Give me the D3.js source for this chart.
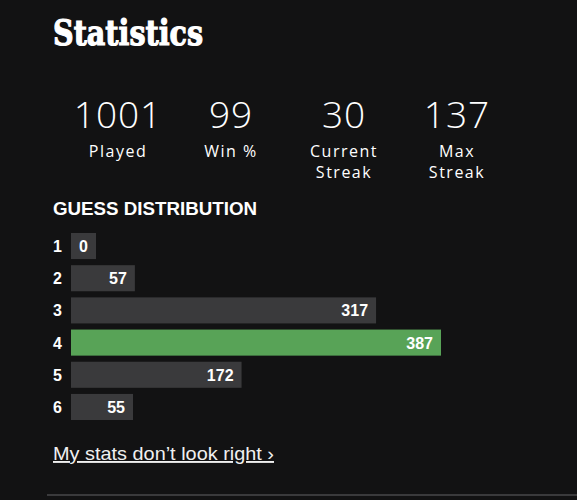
<!DOCTYPE html>
<html>
<head>
<meta charset="utf-8">
<script src="https://cdn.jsdelivr.net/npm/d3@7"></script>
<style>
  html, body { margin: 0; padding: 0; background: #121213; }
  svg { display: block; }
</style>
</head>
<body>
<svg id="chart"></svg>
<script>
// stat header
const statValues = ['1001', '99', '30', '137'];
const statLabels = [['Played'], ['Win %'], ['Current', 'Streak'], ['Max', 'Streak']];

// guess distribution
const guesses = ['1', '2', '3', '4', '5', '6'];
const counts = [0, 57, 317, 387, 172, 55];
const lastGuess = '4';

const width = 577;
const height = 500;

const svg = d3.select('#chart')
    .attr('width', width)
    .attr('height', height);

svg.append('rect')
    .attr('width', width)
    .attr('height', height)
    .attr('fill', '#121213');

// titel
svg.append('text')
    .attr('x', 53)
    .attr('y', 45)
    .text('Statistics')
    .attr('textLength', 150)
    .attr('lengthAdjust', 'spacingAndGlyphs')
    .style('font-family', '"DejaVu Serif", serif')
    .style('font-weight', 'bold')
    .style('font-size', '36px')
    .style('fill', '#ffffff')
    .style('stroke', '#ffffff')
    .style('stroke-width', 1.2);

// kolom statistik
const statX = d3.scalePoint()
    .domain(d3.range(statValues.length))
    .range([118, 457]);

const stat = svg.selectAll('.stat')
    .data(statValues)
    .enter().append('g')
    .attr('class', 'stat')
    .attr('transform', (d, i) => `translate(${statX(i)}, 0)`);

stat.append('text')
    .attr('y', 128)
    .attr('text-anchor', 'middle')
    .text(d => d)
    .style('font-family', '"Open Sans", sans-serif')
    .style('font-weight', '300')
    .style('font-size', '37px')
    .style('letter-spacing', '1px')
    .style('fill', '#ffffff');

stat.each(function (d, i) {
    d3.select(this).selectAll('.lbl')
        .data(statLabels[i])
        .enter().append('text')
        .attr('class', 'lbl')
        .attr('y', (l, j) => 157 + j * 21)
        .attr('text-anchor', 'middle')
        .text(l => l)
        .style('font-family', '"Open Sans", sans-serif')
        .style('font-size', '16px')
        .style('letter-spacing', '1.5px')
        .style('fill', '#ffffff');
});

// judul distribusi
svg.append('text')
    .attr('x', 53)
    .attr('y', 215)
    .text('GUESS DISTRIBUTION')
    .attr('textLength', 204)
    .attr('lengthAdjust', 'spacingAndGlyphs')
    .style('font-family', '"Liberation Sans", Arial, sans-serif')
    .style('font-weight', 'bold')
    .style('font-size', '19px')
    .style('fill', '#ffffff');

// skala bar
const x = d3.scaleLinear()
    .domain([0, d3.max(counts)])
    .range([0, 359]);

const y = d3.scaleBand()
    .domain(guesses)
    .range([233, 420])
    .paddingInner(0.19)
    .paddingOuter(0);

const barLeft = 71;
const barPad = 11;
const minBar = 25;

const row = svg.selectAll('.row')
    .data(guesses)
    .enter().append('g')
    .attr('class', 'row')
    .attr('transform', d => `translate(0, ${y(d)})`);

row.append('text')
    .attr('x', 53)
    .attr('y', y.bandwidth() / 2 + 6)
    .text(d => d)
    .style('font-family', '"Liberation Sans", Arial, sans-serif')
    .style('font-weight', 'bold')
    .style('font-size', '16px')
    .style('fill', '#ffffff');

const barW = (d, i) => Math.max(minBar, barPad + x(counts[i]));

row.append('rect')
    .attr('x', barLeft)
    .attr('y', 0)
    .attr('width', barW)
    .attr('height', y.bandwidth())
    .attr('fill', d => d === lastGuess ? '#58a357' : '#3a3a3c');

row.append('text')
    .attr('x', (d, i) => barLeft + barW(d, i) - 8)
    .attr('y', y.bandwidth() / 2 + 6)
    .attr('text-anchor', 'end')
    .text((d, i) => counts[i])
    .style('font-family', '"Liberation Sans", Arial, sans-serif')
    .style('font-weight', 'bold')
    .style('font-size', '16px')
    .style('fill', '#ffffff');

// tautan
svg.append('text')
    .attr('x', 53)
    .attr('y', 460)
    .text('My stats don\u2019t look right \u203a')
    .attr('textLength', 221)
    .attr('lengthAdjust', 'spacingAndGlyphs')
    .style('font-family', '"Liberation Sans", Arial, sans-serif')
    .style('font-size', '19px')
    .style('text-decoration', 'underline')
    .style('fill', '#f0f0f0');

// garis bawah
svg.append('line')
    .attr('x1', 47)
    .attr('x2', width)
    .attr('y1', 495)
    .attr('y2', 495)
    .attr('stroke', '#3a3a3c')
    .attr('stroke-width', 2);
</script>
</body>
</html>
